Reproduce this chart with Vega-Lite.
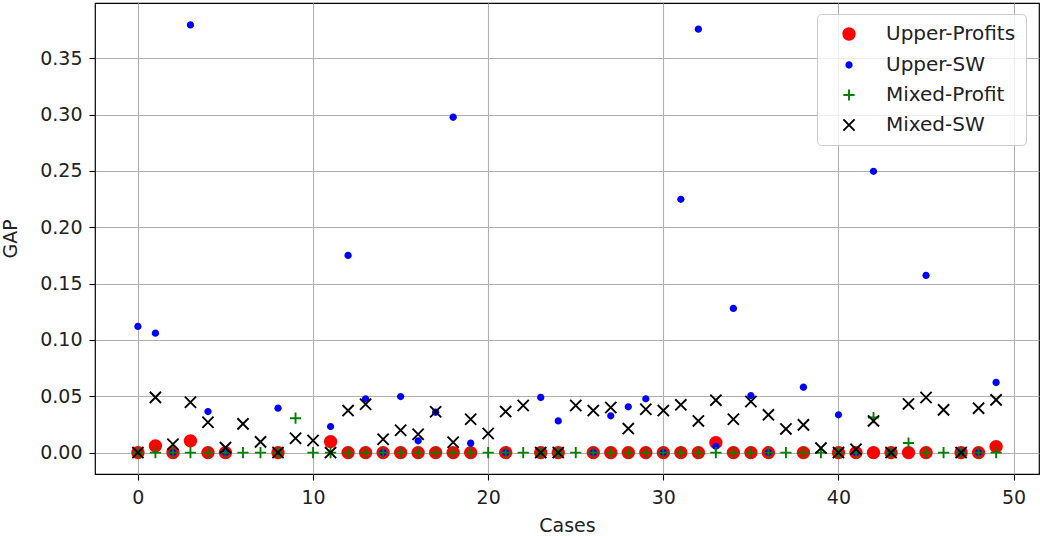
{
  "$schema": "https://vega.github.io/schema/vega-lite/v6.json",
  "autosize": {"type": "none"},
  "width": 944,
  "height": 471,
  "padding": {"left": 95, "top": 3, "right": 1, "bottom": 62},
  "background": "white",
  "config": {
    "font": "DejaVu Sans",
    "view": {"stroke": "#000000", "strokeWidth": 1.2},
    "axis": {
      "domain": false,
      "grid": true,
      "gridColor": "#b0b0b0",
      "gridWidth": 1.1,
      "tickColor": "#000000",
      "tickWidth": 1.1,
      "tickSize": 6,
      "labelFont": "DejaVu Sans",
      "labelFontSize": 19,
      "labelColor": "#222222",
      "titleFont": "DejaVu Sans",
      "titleFontSize": 19,
      "titleFontWeight": "normal",
      "titleColor": "#222222"
    },
    "legend": {
      "labelFont": "DejaVu Sans",
      "labelFontSize": 20,
      "labelColor": "#222222"
    }
  },
  "data": {
    "values": [
      {"case": 0, "Upper-Profits": 0, "Upper-SW": 0.112, "Mixed-Profit": 0, "Mixed-SW": 0},
      {"case": 1, "Upper-Profits": 0.006, "Upper-SW": 0.106, "Mixed-Profit": 0, "Mixed-SW": 0.049},
      {"case": 2, "Upper-Profits": 0, "Upper-SW": 0, "Mixed-Profit": 0, "Mixed-SW": 0.0074},
      {"case": 3, "Upper-Profits": 0.0104, "Upper-SW": 0.3795, "Mixed-Profit": 0, "Mixed-SW": 0.0447},
      {"case": 4, "Upper-Profits": 0, "Upper-SW": 0.0364, "Mixed-Profit": 0, "Mixed-SW": 0.0269},
      {"case": 5, "Upper-Profits": 0, "Upper-SW": 0, "Mixed-Profit": 0, "Mixed-SW": 0.0044},
      {"case": 6, "Upper-Profits": null, "Upper-SW": null, "Mixed-Profit": 0, "Mixed-SW": 0.0255},
      {"case": 7, "Upper-Profits": null, "Upper-SW": null, "Mixed-Profit": 0, "Mixed-SW": 0.0095},
      {"case": 8, "Upper-Profits": 0, "Upper-SW": 0.0394, "Mixed-Profit": 0, "Mixed-SW": 0},
      {"case": 9, "Upper-Profits": null, "Upper-SW": null, "Mixed-Profit": 0.0305, "Mixed-SW": 0.0127},
      {"case": 10, "Upper-Profits": null, "Upper-SW": null, "Mixed-Profit": 0, "Mixed-SW": 0.0107},
      {"case": 11, "Upper-Profits": 0.0098, "Upper-SW": 0.0231, "Mixed-Profit": 0, "Mixed-SW": 0},
      {"case": 12, "Upper-Profits": 0, "Upper-SW": 0.175, "Mixed-Profit": 0, "Mixed-SW": 0.0373},
      {"case": 13, "Upper-Profits": 0, "Upper-SW": 0.0477, "Mixed-Profit": 0, "Mixed-SW": 0.0429},
      {"case": 14, "Upper-Profits": 0, "Upper-SW": 0, "Mixed-Profit": 0, "Mixed-SW": 0.0118},
      {"case": 15, "Upper-Profits": 0, "Upper-SW": 0.0497, "Mixed-Profit": 0, "Mixed-SW": 0.0198},
      {"case": 16, "Upper-Profits": 0, "Upper-SW": 0.0104, "Mixed-Profit": 0, "Mixed-SW": 0.0163},
      {"case": 17, "Upper-Profits": 0, "Upper-SW": 0.0358, "Mixed-Profit": 0, "Mixed-SW": 0.0362},
      {"case": 18, "Upper-Profits": 0, "Upper-SW": 0.2976, "Mixed-Profit": 0, "Mixed-SW": 0.0092},
      {"case": 19, "Upper-Profits": 0, "Upper-SW": 0.0083, "Mixed-Profit": 0, "Mixed-SW": 0.0296},
      {"case": 20, "Upper-Profits": null, "Upper-SW": null, "Mixed-Profit": 0, "Mixed-SW": 0.0169},
      {"case": 21, "Upper-Profits": 0, "Upper-SW": 0, "Mixed-Profit": 0, "Mixed-SW": 0.0364},
      {"case": 22, "Upper-Profits": null, "Upper-SW": null, "Mixed-Profit": 0, "Mixed-SW": 0.0418},
      {"case": 23, "Upper-Profits": 0, "Upper-SW": 0.0489, "Mixed-Profit": 0, "Mixed-SW": 0},
      {"case": 24, "Upper-Profits": 0, "Upper-SW": 0.0281, "Mixed-Profit": 0, "Mixed-SW": 0},
      {"case": 25, "Upper-Profits": null, "Upper-SW": null, "Mixed-Profit": 0, "Mixed-SW": 0.0418},
      {"case": 26, "Upper-Profits": 0, "Upper-SW": 0, "Mixed-Profit": 0, "Mixed-SW": 0.0373},
      {"case": 27, "Upper-Profits": 0, "Upper-SW": 0.0326, "Mixed-Profit": 0, "Mixed-SW": 0.04},
      {"case": 28, "Upper-Profits": 0, "Upper-SW": 0.0406, "Mixed-Profit": 0, "Mixed-SW": 0.0213},
      {"case": 29, "Upper-Profits": 0, "Upper-SW": 0.0477, "Mixed-Profit": 0, "Mixed-SW": 0.0385},
      {"case": 30, "Upper-Profits": 0, "Upper-SW": 0, "Mixed-Profit": 0, "Mixed-SW": 0.0373},
      {"case": 31, "Upper-Profits": 0, "Upper-SW": 0.2248, "Mixed-Profit": 0, "Mixed-SW": 0.0424},
      {"case": 32, "Upper-Profits": 0, "Upper-SW": 0.3758, "Mixed-Profit": 0, "Mixed-SW": 0.0281},
      {"case": 33, "Upper-Profits": 0.0089, "Upper-SW": 0.0056, "Mixed-Profit": 0, "Mixed-SW": 0.0465},
      {"case": 34, "Upper-Profits": 0, "Upper-SW": 0.1279, "Mixed-Profit": 0, "Mixed-SW": 0.0296},
      {"case": 35, "Upper-Profits": 0, "Upper-SW": 0.0506, "Mixed-Profit": 0, "Mixed-SW": 0.0453},
      {"case": 36, "Upper-Profits": 0, "Upper-SW": 0, "Mixed-Profit": 0, "Mixed-SW": 0.0335},
      {"case": 37, "Upper-Profits": null, "Upper-SW": null, "Mixed-Profit": 0, "Mixed-SW": 0.021},
      {"case": 38, "Upper-Profits": 0, "Upper-SW": 0.058, "Mixed-Profit": 0, "Mixed-SW": 0.0246},
      {"case": 39, "Upper-Profits": null, "Upper-SW": null, "Mixed-Profit": 0, "Mixed-SW": 0.004},
      {"case": 40, "Upper-Profits": 0, "Upper-SW": 0.0335, "Mixed-Profit": 0, "Mixed-SW": 0},
      {"case": 41, "Upper-Profits": 0, "Upper-SW": 0, "Mixed-Profit": 0, "Mixed-SW": 0.003},
      {"case": 42, "Upper-Profits": 0, "Upper-SW": 0.2496, "Mixed-Profit": 0.0311, "Mixed-SW": 0.0281},
      {"case": 43, "Upper-Profits": 0, "Upper-SW": 0, "Mixed-Profit": 0, "Mixed-SW": 0},
      {"case": 44, "Upper-Profits": 0, "Upper-SW": null, "Mixed-Profit": 0.0085, "Mixed-SW": 0.0432},
      {"case": 45, "Upper-Profits": 0, "Upper-SW": 0.1572, "Mixed-Profit": 0, "Mixed-SW": 0.0489},
      {"case": 46, "Upper-Profits": null, "Upper-SW": null, "Mixed-Profit": 0, "Mixed-SW": 0.0379},
      {"case": 47, "Upper-Profits": 0, "Upper-SW": 0, "Mixed-Profit": 0, "Mixed-SW": 0},
      {"case": 48, "Upper-Profits": 0, "Upper-SW": 0, "Mixed-Profit": 0, "Mixed-SW": 0.0394},
      {"case": 49, "Upper-Profits": 0.0053, "Upper-SW": 0.0622, "Mixed-Profit": 0, "Mixed-SW": 0.0468}
    ]
  },
  "transform": [
    {"fold": ["Upper-Profits", "Upper-SW", "Mixed-Profit", "Mixed-SW"], "as": ["series", "gap"]},
    {"filter": "datum.gap != null"}
  ],
  "mark": {"type": "point", "opacity": 1, "strokeWidth": 1.9, "size": 196, "clip": true},
  "encoding": {
    "x": {
      "field": "case",
      "type": "quantitative",
      "scale": {"domain": [-2.45, 51.45], "nice": false, "zero": false},
      "axis": {"values": [0, 10, 20, 30, 40, 50], "title": "Cases", "labelPadding": 8, "titlePadding": 9}
    },
    "y": {
      "field": "gap",
      "type": "quantitative",
      "scale": {"domain": [-0.019, 0.399], "nice": false, "zero": false},
      "axis": {"values": [0, 0.05, 0.1, 0.15, 0.2, 0.25, 0.3, 0.35], "format": ".2f", "title": "GAP", "labelPadding": 7, "titlePadding": 19}
    },
    "fill": {
      "field": "series",
      "type": "nominal",
      "scale": {"domain": ["Upper-Profits", "Upper-SW", "Mixed-Profit", "Mixed-SW"], "range": ["#ff0000", "#0000ff", "transparent", "transparent"]},
      "legend": {
        "title": null,
        "orient": "none",
        "legendX": 722,
        "legendY": 11,
        "padding": 10,
        "symbolSize": 196,
        "symbolOffset": 12,
        "labelOffset": 27,
        "rowPadding": 10,
        "symbolStrokeWidth": 1.9,
        "strokeColor": "#cccccc",
        "fillColor": "rgba(255,255,255,0.8)",
        "cornerRadius": 4
      }
    },
    "stroke": {
      "field": "series",
      "type": "nominal",
      "scale": {"domain": ["Upper-Profits", "Upper-SW", "Mixed-Profit", "Mixed-SW"], "range": ["transparent", "transparent", "#008000", "#000000"]}
    },
    "shape": {
      "field": "series",
      "type": "nominal",
      "scale": {
        "domain": ["Upper-Profits", "Upper-SW", "Mixed-Profit", "Mixed-SW"],
        "range": [
          "M-0.95,0A0.95,0.95,0,1,1,0.95,0A0.95,0.95,0,1,1,-0.95,0Z",
          "M-0.52,0A0.52,0.52,0,1,1,0.52,0A0.52,0.52,0,1,1,-0.52,0Z",
          "M-0.8,0H0.8M0,-0.8V0.8",
          "M-0.8,-0.8L0.8,0.8M0.8,-0.8L-0.8,0.8"
        ]
      }
    }
  }
}
